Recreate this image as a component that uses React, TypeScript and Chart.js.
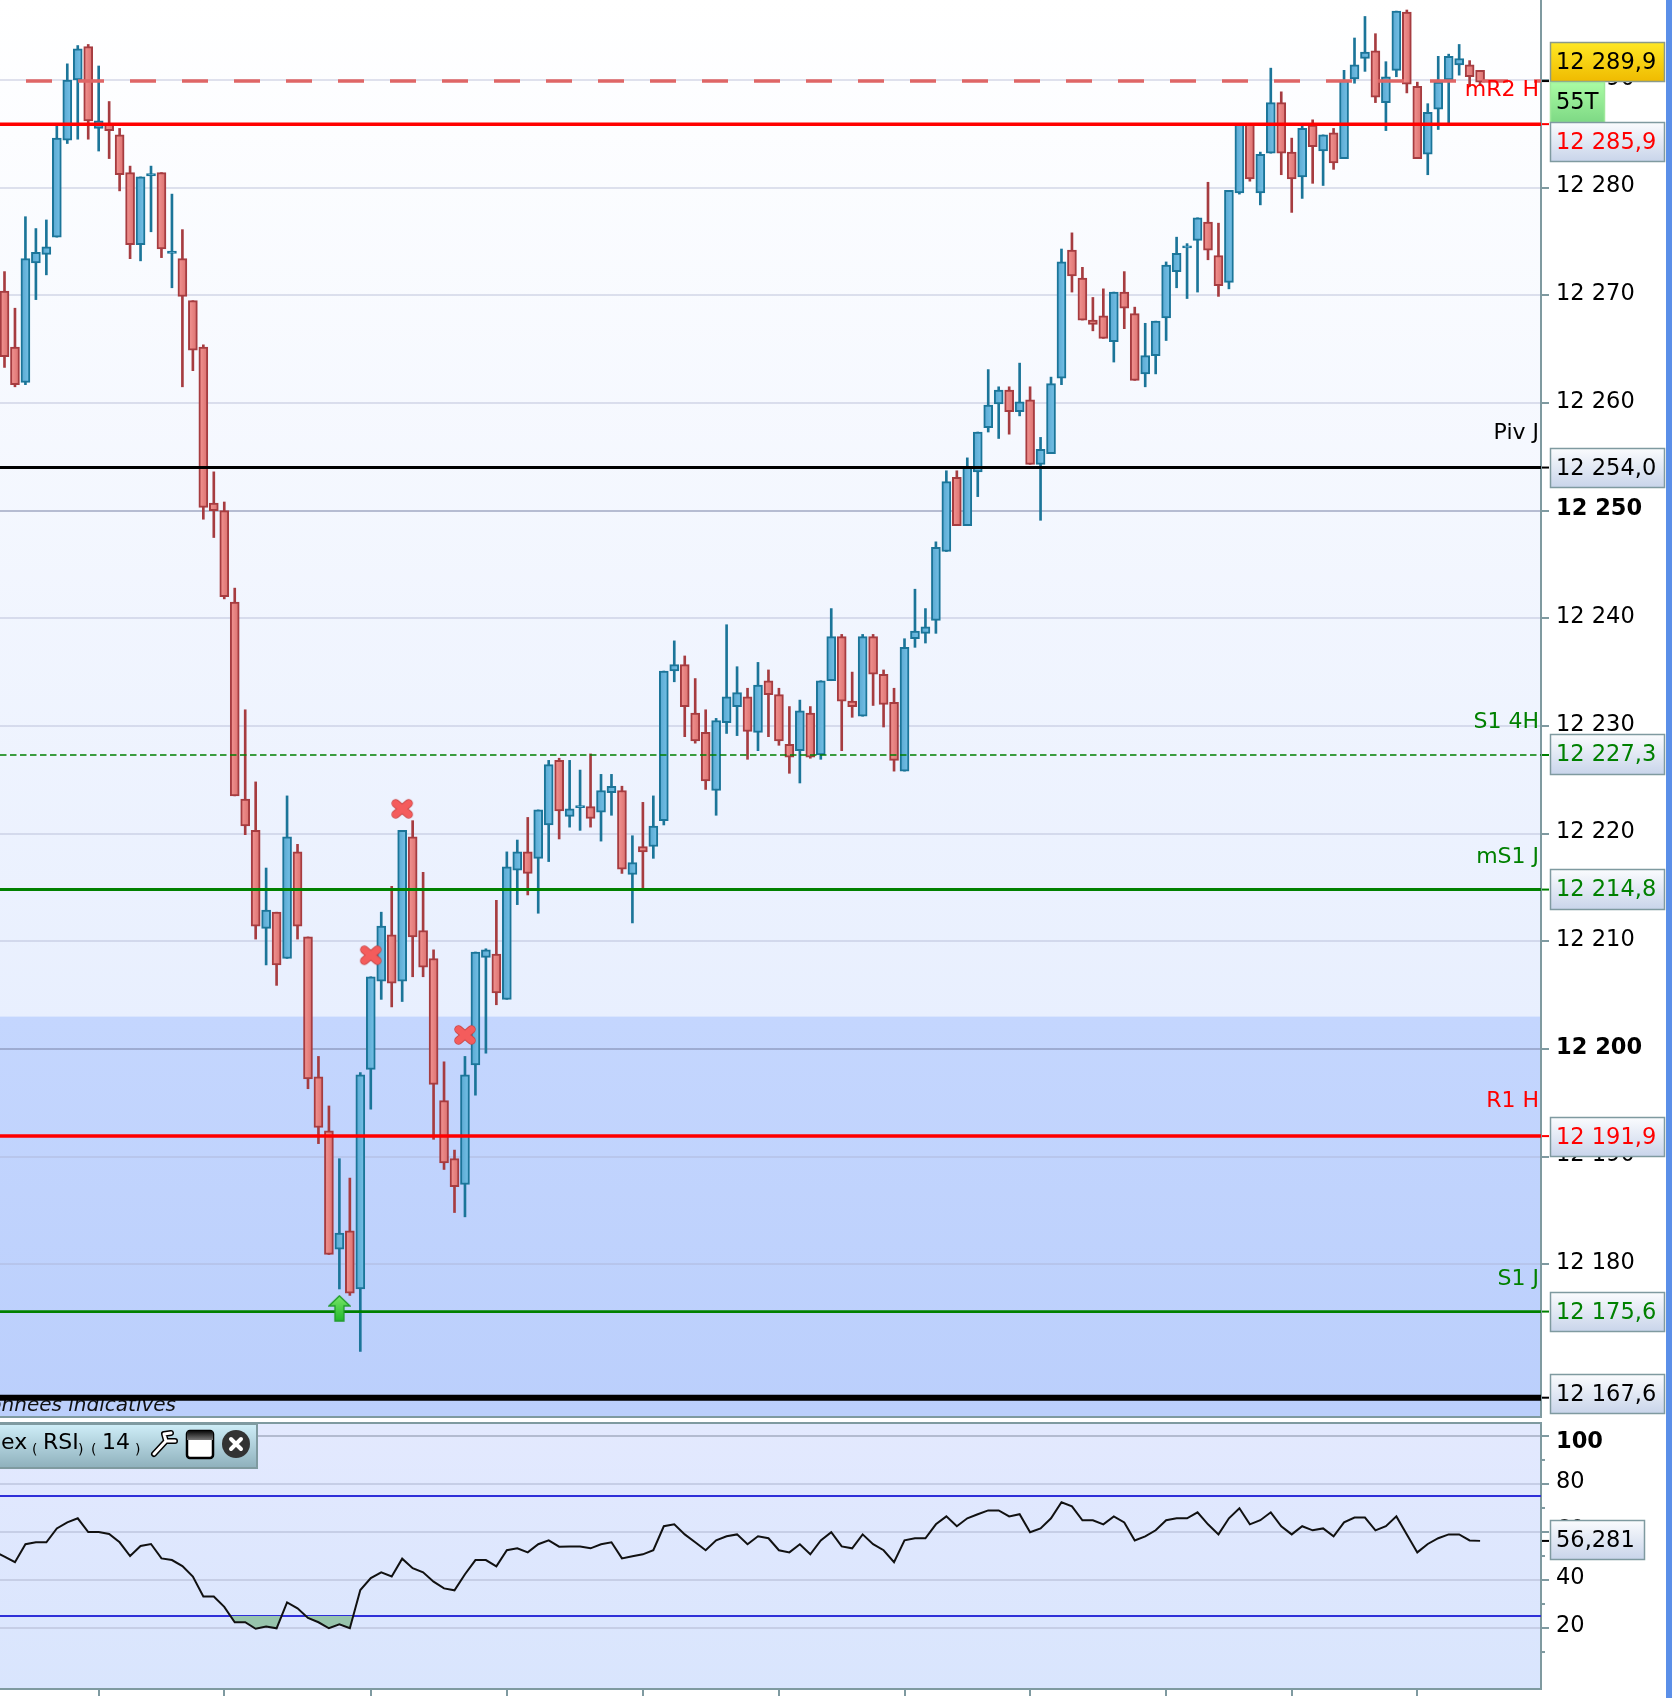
import React, { useEffect, useRef } from "react";
import { Chart, registerables } from "chart.js";

Chart.register(...registerables);

const FONT = "'DejaVu Sans'";

// ---------- Price series (one entry per candle) ----------
const highs = [
  12272.2,12268.8,12277.3,12276.2,12277,12285.8,12291.5,12293.2,12293.3,12291.3,
  12288,12285.5,12282,12281,12282,12281.4,12279.4,12276.1,12269.5,12265.4,
  12253.6,12250.8,12242.8,12231.5,12224.8,12216.8,12212.7,12223.5,12219,12210.4,
  12199.3,12194.7,12189.8,12188,12197.8,12206.7,12212.7,12215.1,12220.3,12221.2,
  12216.4,12209.2,12198.8,12190.6,12199.3,12209,12209.3,12213.8,12218.3,12219.4,
  12221.5,12222.2,12226.8,12227,12226.8,12225.9,12227.4,12225.5,12225.5,12224.4,
  12219.8,12222.9,12223.5,12235.1,12237.9,12236.5,12234.4,12231.5,12230.7,12239.4,
  12235.5,12233.5,12235.9,12235.2,12233.5,12231.8,12232.4,12231.8,12234.2,12240.9,
  12238.5,12235,12238.5,12238.5,12235.2,12233.5,12238.1,12242.7,12240.9,12247.1,
  12253.7,12253.7,12254.9,12257.3,12263.1,12261.5,12261.5,12263.7,12261.5,12256.8,
  12262.4,12274.3,12275.8,12272.6,12269.8,12270.6,12270.3,12272.2,12268.9,12267.4,
  12267.6,12273.1,12275.4,12274.8,12277.2,12280.5,12276.7,12279.75,12285.9,12285.9,
  12283.3,12291.1,12288.9,12284.6,12285.7,12286.3,12284.9,12285.5,12290.9,12293.9,
  12295.9,12294.3,12291.7,12296.4,12296.5,12289.8,12287.8,12292.2,12292.4,12293.3,12291.8,12290.9,
];
const opens = [
  12270.4,12265.2,12261.9,12273,12273.8,12275.4,12284.4,12290,12293.1,12285.5,
  12285.9,12284.9,12281.4,12274.7,12281.1,12281.4,12273.9,12273.4,12269.5,12265.2,
  12250.7,12250,12241.5,12223.2,12220.3,12211.2,12212.7,12208.4,12218.3,12210.4,
  12197.4,12192.4,12181.4,12183.1,12177.7,12198.1,12206.3,12210.6,12206.3,12219.7,
  12211,12208.4,12195.2,12189.8,12187.4,12198.5,12208.5,12208.8,12204.6,12216.6,
  12218.3,12217.7,12220.8,12226.8,12221.6,12222.4,12222.5,12222,12223.8,12224,
  12216.2,12218.8,12218.8,12221.2,12235.1,12235.7,12231.2,12229.4,12224,12230.3,
  12231.8,12232.7,12229.4,12234.2,12232.9,12228.3,12227.7,12231.2,12227.3,12234.2,
  12238.3,12232.3,12230.9,12238.3,12234.8,12232.2,12225.8,12238.1,12238.6,12239.8,
  12246.2,12253.1,12248.6,12253.6,12257.7,12259.9,12261.2,12259.2,12260.3,12254.3,
  12255.3,12262.3,12274.2,12271.6,12267.7,12268.1,12265.7,12270.3,12268.3,12262.7,
  12264.4,12267.9,12272.2,12274.4,12275.1,12276.8,12273.7,12271.2,12279.5,12285.9,
  12279.5,12283.2,12287.9,12283.3,12281,12285.8,12283.4,12285.1,12282.7,12290.1,
  12292,12292.7,12287.9,12290.9,12296.3,12289.4,12283.1,12287.3,12290,12291.4,12291.4,12290.9,
];
const closes = [
  12264.3,12261.7,12273.4,12274,12274.5,12284.6,12290,12292.9,12286.2,12286.2,
  12285.3,12281.2,12274.7,12281,12281.3,12274.3,12274.1,12269.9,12264.9,12250.3,
  12250,12242,12223.5,12220.7,12211.4,12212.9,12207.8,12219.7,12211.4,12197.2,
  12192.7,12180.9,12182.9,12177.3,12197.6,12206.7,12211.4,12206.1,12220.3,12210.4,
  12207.6,12196.7,12189.4,12187.2,12197.6,12209,12209.2,12205.2,12216.9,12218.3,
  12216.3,12222.2,12226.4,12222.1,12222.3,12222.6,12221.4,12224,12224.4,12216.7,
  12217.3,12218.3,12220.7,12235.1,12235.7,12231.8,12228.6,12224.9,12230.5,12232.7,
  12233.1,12229.5,12233.8,12232.9,12228.6,12227.1,12231.4,12227.1,12234.2,12238.3,
  12232.3,12231.8,12238.3,12234.8,12232,12226.8,12237.3,12238.8,12239.2,12246.6,
  12252.7,12248.6,12254.1,12257.3,12259.8,12261.2,12259.2,12260.1,12254.3,12255.7,
  12261.8,12273.1,12271.8,12267.7,12267.3,12266,12270.3,12268.8,12262.1,12264.4,
  12267.6,12272.8,12273.9,12274.6,12277.2,12274.2,12270.9,12279.75,12285.9,12280.8,
  12283.1,12287.9,12283.2,12280.8,12285.5,12283.8,12284.9,12282.3,12290,12291.4,
  12292.6,12288.4,12290.3,12296.4,12289.6,12282.7,12287,12289.8,12292.2,12292,12290.3,12289.8,
];
const lows = [
  12263.3,12261.5,12261.7,12269.6,12271.9,12275.4,12284.1,12284.5,12284.5,12283.4,
  12282.7,12279.7,12273.4,12273.2,12275.9,12273.5,12270.7,12261.5,12263,12249.2,
  12247.5,12241.8,12223.5,12219.9,12210.2,12207.8,12205.9,12208.4,12210.2,12196.3,
  12191.2,12180.9,12177.7,12177.1,12171.9,12194.4,12204.6,12203.9,12204.4,12206.7,
  12206.7,12191.6,12188.8,12184.8,12184.4,12195.7,12199.6,12204.1,12204.6,12213.4,
  12214.3,12212.6,12217.4,12219.5,12220.6,12220.3,12220.6,12219.3,12221.7,12216.3,
  12211.7,12214.9,12217.7,12220.8,12234.1,12229,12228.4,12224.1,12221.7,12229.3,
  12229.1,12226.9,12227.7,12229,12228.2,12225.6,12224.7,12227,12226.9,12234.2,
  12227.7,12230.8,12230.9,12231.9,12229.9,12225.8,12225.8,12237.3,12237.7,12238.6,
  12246.2,12248.6,12248.6,12251.3,12257.3,12256.7,12257.1,12258.8,12254.3,12249.1,
  12255.3,12261.7,12270.3,12267.7,12266.7,12266,12263.8,12266.9,12262.1,12261.5,
  12262.7,12265.8,12270.7,12269.7,12270.3,12273.3,12269.9,12270.6,12279.4,12280.6,
  12278.4,12283.2,12281.2,12277.7,12279,12280.4,12280.2,12281.7,12282.7,12289.7,
  12290.8,12287.9,12285.3,12290.3,12288.8,12282.7,12281.2,12285.4,12285.9,12290.45,12289.4,12289.5,
];

// ---------- RSI(14), same candles ----------
const rsiValues = [
  49.7,47.4,54.9,55.7,55.7,61.5,64,65.7,60,60,
  59.2,55.7,50,54.2,55,49,48.3,45.8,41.4,33.1,
  33.1,28.8,22.4,22.4,19.7,20.6,19.9,30.7,28.2,24.2,
  22.4,19.9,21.5,19.9,35.8,40.8,43.2,41.5,48.9,44.9,
  43.2,39.3,36.5,35.7,42.4,48.3,48.3,45.7,52.4,53.2,
  51.5,54.9,56.5,53.9,54,54,53.2,54.9,55.7,49,
  49.9,50.7,52.4,62.4,63.2,59,55.7,52.4,56.5,58.2,
  59,54.9,58.2,57.4,52.4,51.5,54.9,50.7,56.5,59.9,
  54,53.2,59,54.9,52.4,47.4,56.5,57.4,57.4,63.2,
  66.5,62.4,65.7,67.4,69,69,66.5,67.4,59.9,61.5,
  65.7,72.4,70.7,64.9,64.9,63.2,66.5,64,56.5,58.2,
  60.7,64.9,65.7,65.7,68.2,63.2,59,65.7,69.9,63.2,
  64.9,68.2,62.4,59,62.4,60.7,61.5,58.2,64,66,
  66,60.7,62.4,66.5,59,51.5,55,57.4,59,59,56.5,56.3,
];
// the value of the candle just off the left edge
const rsiBeforeFirst = 52;

// ---------- Axes ----------
const priceTicks = [12180,12190,12200,12210,12220,12230,12240,12250,12260,12270,12280,12290];
const boldPriceTicks = [12200,12250];
const rsiTicks = [20,40,60,80,100];
const rsiMinorTicks = [10,30,50,70,90];
const xTickIndexes = [9,21,35,48,61,74,86,98,111,123,135];
const priceMin = 12165.9;
const priceMax = 12297.43;
const rsiMin = -5.4;
const rsiMax = 105.4;
const xMin = -0.43;
const xMax = 146.82;

// ---------- Levels ----------
const levelDashedRed = 12289.9;
const levelMR2H = 12285.9;
const levelPivJ = 12254.0;
const levelS14H = 12227.3;
const levelMS1J = 12214.8;
const levelR1H = 12191.9;
const levelS1J = 12175.6;
const levelBlack = 12167.6;
const zoneTop = 12203;
const rsiUpper = 75;
const rsiLower = 25;
const rsiLast = 56.281;

// ---------- Markers ----------
const crossIndexes = [35, 38, 44];
const crossPrices = [12208.7, 12222.3, 12201.3];
const arrowIndexes = [32];
const arrowPrices = [12175.9];

const fmt = (v: number) => {
  const s = String(Math.round(v));
  return s.length > 3 ? s.slice(0, -3) + " " + s.slice(-3) : s;
};

function makeCross(): HTMLCanvasElement {
  const c = document.createElement("canvas");
  c.width = 26; c.height = 24;
  const g = c.getContext("2d")!;
  const path = () => { g.beginPath(); g.moveTo(6.5, 6.5); g.lineTo(19.5, 17.5); g.moveTo(19.5, 6.5); g.lineTo(6.5, 17.5); };
  g.lineCap = "round";
  g.strokeStyle = "#c94747"; g.lineWidth = 8.5; path(); g.stroke();
  g.strokeStyle = "#f45c5c"; g.lineWidth = 6.8; path(); g.stroke();
  return c;
}
function makeArrow(): HTMLCanvasElement {
  const c = document.createElement("canvas");
  c.width = 23; c.height = 27;
  const g = c.getContext("2d")!;
  const grad = g.createLinearGradient(0, 0, 0, 27);
  grad.addColorStop(0, "#7ce86a"); grad.addColorStop(1, "#1fb82a");
  g.fillStyle = grad; g.strokeStyle = "#1f9a2a"; g.lineWidth = 1.3;
  g.beginPath();
  g.moveTo(11.5, 1); g.lineTo(22, 11); g.lineTo(16, 11); g.lineTo(16, 26);
  g.lineTo(7, 26); g.lineTo(7, 11); g.lineTo(1, 11); g.closePath();
  g.fill(); g.stroke();
  return c;
}

function box(ctx: any, x: number, y: number, w: number, h: number, c1: string, c2: string, text: string, color: string, border = "#7f9aa0") {
  const g = ctx.createLinearGradient(0, y, 0, y + h);
  g.addColorStop(0, c1); g.addColorStop(1, c2);
  ctx.fillStyle = g;
  ctx.fillRect(x, y, w, h);
  ctx.strokeStyle = border; ctx.lineWidth = 1.5;
  ctx.strokeRect(x + 0.5, y + 0.5, w - 1, h - 1);
  ctx.fillStyle = color;
  ctx.font = `22.5px ${FONT}`;
  ctx.textAlign = "left"; ctx.textBaseline = "alphabetic";
  ctx.fillText(text, x + 6, y + 26.5);
}

function shiftLabels(s: any, dy: (text: any) => number) {
  s.getLabelItems().forEach((it: any) => {
    if (!it.__moved) { it.options.translation[1] += dy(it.label); it.__moved = true; }
  });
}

function axisMark(ctx: any, y: number, color: string, x = 1542) {
  ctx.fillStyle = color;
  ctx.fillRect(x, y - 1, 7, 2);
}

const mainPlugin = {
  id: "mainDecor",
  beforeDraw(chart: any) {
    const { ctx, chartArea: a, scales } = chart;
    const g = ctx.createLinearGradient(0, a.top, 0, a.bottom * 0.72);
    g.addColorStop(0, "#ffffff"); g.addColorStop(1, "#e8effe");
    ctx.fillStyle = g;
    ctx.fillRect(a.left, a.top, a.right - a.left, a.bottom - a.top);
    const zy = scales.y.getPixelForValue(zoneTop);
    const z = ctx.createLinearGradient(0, zy, 0, a.bottom);
    z.addColorStop(0, "#c4d6fe"); z.addColorStop(1, "#bbcffc");
    ctx.fillStyle = z;
    ctx.fillRect(a.left, zy, a.right - a.left, a.bottom - zy);
    shiftLabels(scales.y, () => -1);
  },
  beforeDatasetsDraw(chart: any) {
    const { ctx } = chart;
    ctx.save();
    ctx.fillStyle = "#111";
    ctx.font = `italic 20px ${FONT}`;
    ctx.textAlign = "right"; ctx.textBaseline = "alphabetic";
    ctx.fillText("Données indicatives", 176, 1411);
    ctx.restore();
  },
  afterDraw(chart: any) {
    const { ctx, chartArea: a, scales } = chart;
    const Y = (v: number) => scales.y.getPixelForValue(v);
    ctx.save();
    // bottom border of the panel
    ctx.fillStyle = "#7f9aa0";
    ctx.fillRect(0, a.bottom, a.right + 1, 2);
    // level labels inside the panel
    ctx.font = `22px ${FONT}`;
    ctx.textAlign = "right"; ctx.textBaseline = "middle";
    const names: [string, number, string][] = [
      ["mR2 H", 90, "#ff0000"], ["Piv J", 433, "#000000"], ["S1 4H", 722, "#008000"],
      ["mS1 J", 857, "#008000"], ["R1 H", 1101, "#ff0000"], ["S1 J", 1279, "#008000"],
    ];
    names.forEach(([t, y, c]) => { ctx.fillStyle = c; ctx.fillText(t, 1539, y); });
    // marks on the axis
    axisMark(ctx, Y(levelDashedRed), "#000");
    axisMark(ctx, Y(levelMR2H), "#ff0000");
    axisMark(ctx, Y(levelPivJ), "#000");
    axisMark(ctx, Y(levelS14H), "#008000");
    axisMark(ctx, Y(levelMS1J), "#008000");
    axisMark(ctx, Y(levelR1H), "#ff0000");
    axisMark(ctx, Y(levelS1J), "#008000");
    axisMark(ctx, Y(levelBlack), "#000");
    // value boxes
    const sky1 = "#fbfcfe", sky2 = "#c8d4ea";
    box(ctx, 1550, 42, 115, 40, "#ffe825", "#efba00", "12 289,9", "#000", "#8a9a8a");
    box(ctx, 1550, 82, 55, 41, "#aafca4", "#7dd884", "55T", "#000", "#9fe89a");
    box(ctx, 1550, 122, 115, 40, sky1, sky2, "12 285,9", "#ff0000");
    box(ctx, 1550, 448, 115, 40, sky1, sky2, "12 254,0", "#000");
    box(ctx, 1550, 734, 115, 41, sky1, sky2, "12 227,3", "#008000");
    box(ctx, 1550, 869, 115, 41, sky1, sky2, "12 214,8", "#008000");
    box(ctx, 1550, 1117, 115, 40, sky1, sky2, "12 191,9", "#ff0000");
    box(ctx, 1550, 1292, 115, 40, sky1, sky2, "12 175,6", "#008000");
    box(ctx, 1550, 1374, 115, 40, sky1, sky2, "12 167,6", "#000");
    ctx.restore();
  },
};

const rsiPlugin = {
  id: "rsiDecor",
  beforeDraw(chart: any) {
    const { ctx, chartArea: a, scales } = chart;
    const g = ctx.createLinearGradient(0, a.top, 0, a.bottom);
    g.addColorStop(0, "#e3e9fe"); g.addColorStop(1, "#d9e5fd");
    ctx.fillStyle = g;
    ctx.fillRect(a.left, a.top, a.right - a.left, a.bottom - a.top);
    shiftLabels(scales.y, (t: any) => (String(t) === "100" ? 6 : -2));
  },
  afterDraw(chart: any) {
    const { ctx, chartArea: a, scales } = chart;
    const Y = (v: number) => scales.y.getPixelForValue(v);
    const off = 1418;
    ctx.save();
    ctx.fillStyle = "#7f9aa0";
    ctx.fillRect(0, a.top - 1, a.right + 1, 2);
    rsiMinorTicks.forEach((v) => ctx.fillRect(1542, Y(v) - 1, 3, 2));
    axisMark(ctx, Y(rsiLast), "#000");
    box(ctx, 1550, 1520 - off, 95, 40, "#fbfcfe", "#c8d4ea", "56,281", "#000");

    // indicator toolbar
    const ty = 1424 - off;
    const g = ctx.createLinearGradient(0, ty, 0, ty + 44);
    g.addColorStop(0, "#cfeef8"); g.addColorStop(1, "#8eb0bc");
    ctx.fillStyle = g;
    ctx.fillRect(0, ty, 257, 44);
    ctx.strokeStyle = "#7f9aa0"; ctx.lineWidth = 2;
    ctx.strokeRect(-2, ty, 259, 44);
    const base = 1449 - off;
    ctx.fillStyle = "#000"; ctx.textAlign = "left"; ctx.textBaseline = "alphabetic";
    ctx.font = `22px ${FONT}`;
    ctx.fillText("ex", 1, base);
    ctx.fillText("RSI", 43, base);
    ctx.fillText("14", 102, base);
    ctx.font = `14px ${FONT}`;
    ctx.fillText("(", 32, base + 5);
    ctx.fillText(")", 78, base + 5);
    ctx.fillText("(", 91, base + 5);
    ctx.fillText(")", 135, base + 5);

    // wrench
    ctx.strokeStyle = "#000"; ctx.lineWidth = 6; ctx.lineCap = "round"; ctx.lineJoin = "round";
    const wrench = () => {
      ctx.beginPath();
      ctx.moveTo(154, 1454 - off); ctx.lineTo(166, 1441 - off);
      ctx.moveTo(166, 1441 - off); ctx.lineTo(164, 1434 - off); ctx.lineTo(171, 1433 - off);
      ctx.moveTo(166, 1441 - off); ctx.lineTo(175, 1441 - off);
    };
    wrench(); ctx.stroke();
    ctx.strokeStyle = "#fff"; ctx.lineWidth = 3; wrench(); ctx.stroke();

    // window
    const wy = 1430 - off;
    ctx.fillStyle = "#fff"; ctx.strokeStyle = "#000"; ctx.lineWidth = 2.5;
    ctx.beginPath(); ctx.roundRect(187, wy + 1, 26, 27, 3); ctx.fill(); ctx.stroke();
    const wg = ctx.createLinearGradient(0, wy, 0, wy + 10);
    wg.addColorStop(0, "#000"); wg.addColorStop(1, "#777");
    ctx.fillStyle = wg; ctx.fillRect(187, wy + 1, 26, 9);

    // close
    ctx.fillStyle = "#333";
    ctx.beginPath(); ctx.arc(236, 1444 - off, 14, 0, Math.PI * 2); ctx.fill();
    ctx.strokeStyle = "#fff"; ctx.lineWidth = 4; ctx.lineCap = "round";
    ctx.beginPath(); ctx.moveTo(231, 1439 - off); ctx.lineTo(241, 1449 - off);
    ctx.moveTo(241, 1439 - off); ctx.lineTo(231, 1449 - off); ctx.stroke();
    ctx.restore();
  },
};

const hLine = (y: number, color: string, width: number, dash: number[] = [], dashOffset = 0, order = 1) => ({
  type: "line" as const,
  data: [{ x: xMin, y }, { x: xMax, y }],
  borderColor: color,
  borderWidth: width,
  borderDash: dash,
  borderDashOffset: dashOffset,
  pointRadius: 0,
  order,
});

const BLUE = "#1b7599";
const RED = "#a63c40";

function bodyFill(ctx: any) {
  if (ctx.type !== "data") return "#6ab6dc";
  const i = ctx.dataIndex;
  const up = closes[i] >= opens[i];
  const x = ctx.chart.scales.x?.getPixelForValue(i);
  if (!Number.isFinite(x)) return up ? "#68b6dd" : "#e98583";
  const g = ctx.chart.ctx.createLinearGradient(x - 4, 0, x + 4, 0);
  if (up) { g.addColorStop(0, "#5aa9d2"); g.addColorStop(1, "#74c0e6"); }
  else { g.addColorStop(0, "#f29492"); g.addColorStop(1, "#dc7270"); }
  return g;
}

export default function App() {
  const mainRef = useRef<HTMLCanvasElement>(null);
  const rsiRef = useRef<HTMLCanvasElement>(null);

  useEffect(() => {
    const idx = opens.map((_, i) => i);
    const isUp = (i: number) => closes[i] >= opens[i];
    const main = new Chart(mainRef.current!, {
      type: "bar",
      data: {
        datasets: [
          {
            type: "bar",
            data: idx.map((i) => ({ x: i, y: [lows[i], highs[i]] })),
            backgroundColor: idx.map((i) => (isUp(i) ? BLUE : RED)),
            barThickness: 2,
            grouped: false,
            order: 20,
          },
          {
            type: "bar",
            data: idx.map((i) => ({ x: i, y: [opens[i], closes[i]] })),
            backgroundColor: bodyFill,
            borderColor: idx.map((i) => (isUp(i) ? BLUE : RED)),
            borderWidth: 2,
            borderSkipped: false,
            barThickness: 9,
            grouped: false,
            order: 10,
          },
          hLine(levelDashedRed, "#df6666", 3.5, [26, 26], 26, 5),
          hLine(levelMR2H, "#ff0000", 3.5, [], 0, 4),
          hLine(levelPivJ, "#000000", 3, [], 0, 4),
          hLine(levelS14H, "#008000", 1.6, [6.5, 3.5], 0, 4),
          hLine(levelMS1J, "#008000", 3, [], 0, 4),
          hLine(levelR1H, "#ff0000", 3.5, [], 0, 4),
          hLine(levelS1J, "#008000", 2.7, [], 0, 4),
          hLine(levelBlack, "#000000", 6, [], 0, 4),
          {
            type: "scatter",
            data: crossIndexes.map((x, i) => ({ x, y: crossPrices[i] })),
            pointStyle: makeCross(),
            order: 2,
          },
          {
            type: "scatter",
            data: arrowIndexes.map((x, i) => ({ x, y: arrowPrices[i] })),
            pointStyle: makeArrow(),
            order: 2,
          },
        ] as any,
      },
      options: {
        animation: false,
        responsive: false,
        devicePixelRatio: 1,
        layout: { autoPadding: false, padding: { top: 0, left: 0, right: 0, bottom: 2 } },
        plugins: { legend: { display: false }, tooltip: { enabled: false } },
        scales: {
          x: {
            type: "linear",
            min: xMin,
            max: xMax,
            offset: false,
            display: false,
            afterFit(s: any) { s.paddingLeft = 0; s.paddingRight = 0; },
          },
          y: {
            position: "right",
            min: priceMin,
            max: priceMax,
            afterFit(s: any) { s.width = 131; s.paddingTop = 0; s.paddingBottom = 0; },
            afterBuildTicks(s: any) { s.ticks = priceTicks.map((value) => ({ value })); },
            ticks: {
              autoSkip: false,
              padding: 7,
              color: "#000",
              font: (c: any) => ({ family: "DejaVu Sans", size: 22.5, weight: boldPriceTicks.includes(c.tick?.value) ? "bold" : "normal" }),
              callback: (v: any) => fmt(Number(v)),
            },
            grid: {
              lineWidth: 2,
              tickLength: 8,
              tickColor: "#7f9aa0",
              color: (c: any) => (boldPriceTicks.includes(c.tick?.value) ? "rgba(120,130,165,0.5)" : "rgba(170,175,205,0.36)"),
            },
            border: { color: "#7f9aa0", width: 2 },
          },
        },
      } as any,
      plugins: [mainPlugin],
    });

    const rsi = new Chart(rsiRef.current!, {
      type: "line",
      data: {
        datasets: [
          {
            data: [{ x: -1, y: rsiBeforeFirst }, ...rsiValues.map((y, x) => ({ x, y }))],
            borderColor: "#111111",
            borderWidth: 2,
            pointRadius: 0,
            tension: 0,
            fill: { target: { value: rsiLower }, above: "rgba(0,0,0,0)", below: "#97c4ac" },
            order: 1,
          },
          hLine(rsiUpper, "#2f2fd8", 2, [], 0, 2),
          hLine(rsiLower, "#2f2fd8", 2, [], 0, 2),
        ] as any,
      },
      options: {
        animation: false,
        responsive: false,
        devicePixelRatio: 1,
        layout: { autoPadding: false, padding: { top: 5, left: 0, right: 0, bottom: 0 } },
        plugins: { legend: { display: false }, tooltip: { enabled: false } },
        scales: {
          x: {
            type: "linear",
            min: xMin,
            max: xMax,
            afterFit(s: any) { s.height = 9; s.paddingLeft = 0; s.paddingRight = 0; },
            afterBuildTicks(s: any) { s.ticks = xTickIndexes.map((value) => ({ value })); },
            ticks: { autoSkip: false, maxRotation: 0, padding: 0, callback: () => "" },
            grid: { drawOnChartArea: false, lineWidth: 2, tickLength: 7, tickColor: "#7f9aa0" },
            border: { color: "#7f9aa0", width: 2 },
          },
          y: {
            position: "right",
            min: rsiMin,
            max: rsiMax,
            afterFit(s: any) { s.width = 131; s.paddingTop = 0; s.paddingBottom = 0; },
            afterBuildTicks(s: any) { s.ticks = rsiTicks.map((value) => ({ value })); },
            ticks: {
              autoSkip: false,
              padding: 7,
              color: "#000",
              font: (c: any) => ({ family: "DejaVu Sans", size: 22.5, weight: c.tick?.value === 100 ? "bold" : "normal" }),
              callback: (v: any) => String(v),
            },
            grid: {
              lineWidth: 2,
              tickLength: 8,
              tickColor: "#7f9aa0",
              color: (c: any) => (c.tick?.value === 100 ? "#b3bbd0" : "#c6cee6"),
            },
            border: { color: "#7f9aa0", width: 2 },
          },
        },
      } as any,
      plugins: [rsiPlugin],
    });

    return () => { main.destroy(); rsi.destroy(); };
  }, []);

  return (
    <div style={{ position: "absolute", left: 0, top: 0, width: 1672, height: 1698, background: "#fff", overflow: "hidden" }}>
      <canvas ref={mainRef} width={1672} height={1418} style={{ position: "absolute", left: 0, top: 0, width: 1672, height: 1418 }} />
      <canvas ref={rsiRef} width={1672} height={280} style={{ position: "absolute", left: 0, top: 1418, width: 1672, height: 280 }} />
      <div style={{ position: "absolute", left: 1666, top: 0, width: 6, height: 1698, background: "#5b8fe8" }} />
    </div>
  );
}
